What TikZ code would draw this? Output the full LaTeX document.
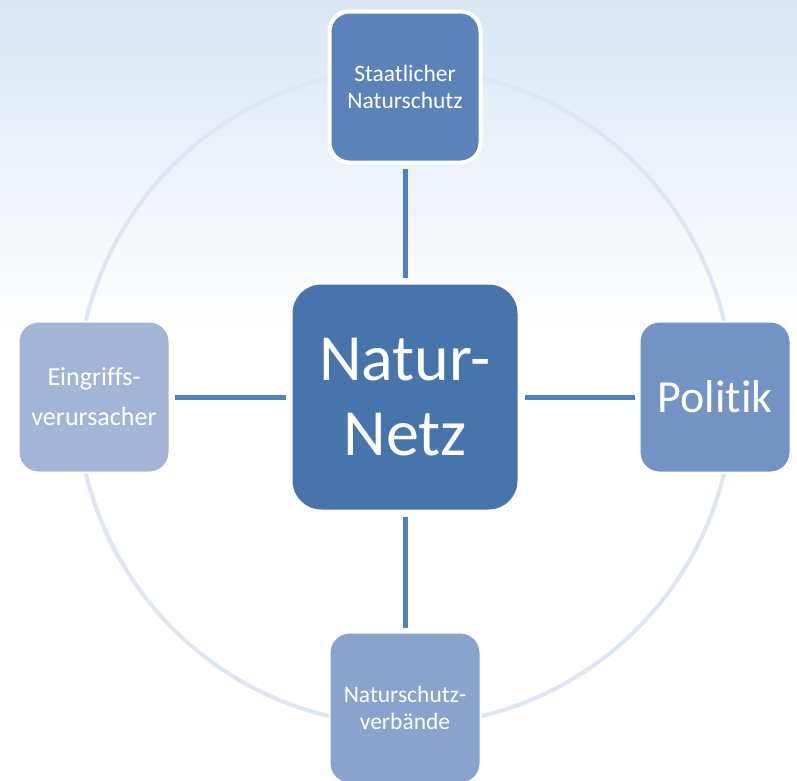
\documentclass[tikz,border=0pt]{standalone}
\usepackage{fontspec}
\setmainfont{Carlito}[Ligatures=NoCommon]
\definecolor{bgtop}{RGB}{218,230,242}
\definecolor{ringcol}{RGB}{221,230,242}
\definecolor{linkcol}{RGB}{79,129,189}
\definecolor{netzcol}{RGB}{72,116,172}
\definecolor{staatcol}{RGB}{91,131,185}
\definecolor{eingrcol}{RGB}{163,181,214}
\definecolor{politcol}{RGB}{114,147,196}
\definecolor{verbcol}{RGB}{137,163,204}
\begin{document}
\begin{tikzpicture}[x=1pt,y=-1pt]

      \tikzset{box/.style={draw=white, line width=2pt, rounded corners=20pt, minimum size=151pt, inner sep=0pt, align=center, text=white},
               link/.style={linkcol, line width=5pt, shorten >=4pt, shorten <=4pt}}
%% Background
      \useasboundingbox (0,0) rectangle (797,780);
      \clip (0,0) rectangle (797,780);
      \shade[top color=bgtop, bottom color=white] (0,0) rectangle (797,330);
      \fill[white] (0,330) rectangle (797,780);
      \draw[ringcol, line width=4pt] (405,397) circle (328pt);
%% Boxes
      \node[box, fill=netzcol, line width=3pt, minimum size=228pt, rounded corners=30pt, font=\fontsize{66}{75}\selectfont] (netz) at (405,397) {Natur-\\Netz};
      \node[box, fill=staatcol, line width=4pt, font=\fontsize{23.5}{27}\selectfont] (staat) at (405,87) {Staatlicher\\Naturschutz};
      \node[box, fill=eingrcol, font=\fontsize{26}{40}\selectfont] (eingr) at (94,397) {Eingriffs-\\verursacher};
      \node[box, fill=politcol, font=\fontsize{46}{50}\selectfont] (polit) at (715,397) {Politik};
      \node[box, fill=verbcol, font=\fontsize{23.5}{27}\selectfont] (verb) at (405,708) {Naturschutz-\\verbände};
%% Links
      \path[link] (staat) edge (netz);
      \path[link] (eingr) edge (netz);
      \path[link] (netz) edge (polit);
      \path[link] (netz) edge (verb);

\end{tikzpicture}
\end{document}
